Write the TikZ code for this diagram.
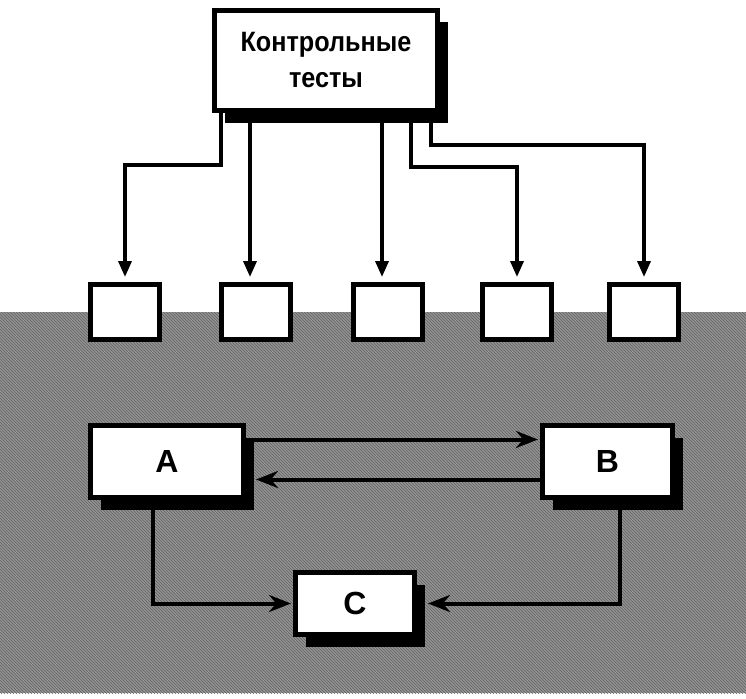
\documentclass[tikz,border=0pt]{standalone}
\usepackage{fontspec}
\setmainfont{Liberation Sans}
\newfontfamily\condfont[FakeStretch=0.9]{Liberation Sans}
\usetikzlibrary{arrows.meta,shadows,calc,patterns}
\begin{document}
\begin{tikzpicture}[x=1pt,y=-1pt,
  box/.style={draw=black, line width=5pt, fill=white, inner sep=0pt, align=center,
    drop shadow={shadow xshift=10pt, shadow yshift=-12pt, fill=black, opacity=1}},
  smallbox/.style={draw=black, line width=5pt, fill=white, minimum width=69pt, minimum height=55pt, inner sep=0pt},
  conn/.style={line width=3.5pt, -{Triangle[length=16pt,width=13pt]}, shorten >=5pt},
  conn2/.style={line width=4pt, -{Stealth[length=22pt,width=17pt]}},
  lbl/.style={font=\fontsize{32}{36}\selectfont\bfseries}]
\useasboundingbox (0,0) rectangle (746,698);
\fill[white] (0,0) rectangle (746,698);
% textured gray ground
\fill[black!42] (0,312) rectangle (746,693);
\fill[pattern=north west lines, pattern color=black!62] (0,312) rectangle (746,693);
% nodes
\node[box, minimum width=223pt, minimum height=100pt,
  font=\fontsize{28}{36}\selectfont\condfont\bfseries] (top) at (326,60.5) {Контрольные\\тесты};
\node[smallbox] (s1) at (125,312) {};
\node[smallbox] (s2) at (256,312) {};
\node[smallbox] (s3) at (388,312) {};
\node[smallbox] (s4) at (517,312) {};
\node[smallbox] (s5) at (644,312) {};
\node[box, lbl, minimum width=153pt, minimum height=72pt] (A) at (167,461.5) {A};
\node[box, lbl, minimum width=130pt, minimum height=72pt] (B) at (607.5,461.5) {B};
\node[box, lbl, minimum width=119pt, minimum height=62pt] (C) at (355,603.5) {C};
% connectors from top
\coordinate (t1) at ($(top.south)+(-105,0)$);
\coordinate (t2) at ($(top.south)+(-76,0)$);
\coordinate (t3) at ($(top.south)+(56,0)$);
\coordinate (t4) at ($(top.south)+(85,0)$);
\coordinate (t5) at ($(top.south)+(105,0)$);
\draw[conn] (t1) -- ++(0,52) -| (s1.north);
\draw[conn] (t2) -- (t2 |- s2.north);
\draw[conn] (t3) -- (t3 |- s3.north);
\draw[conn] (t4) -- ++(0,54) -| (s4.north);
\draw[conn] (t5) -- ++(0,32) -| (s5.north);
% A <-> B
\draw[conn2, shorten >=2pt] ($(A.east)+(8,-22)$) -- ($(B.west)+(0,-22)$);
\draw[conn2] ($(B.west)+(0,18)$) -- ($(A.east)+(10,18)$);
% to C
\draw[conn2, shorten >=2pt] ($(A.south)+(-14,0)$) |- (C.west);
\draw[conn2] ($(B.south)+(12,0)$) |- ($(C.east)+(11,0)$);
\end{tikzpicture}
\end{document}
